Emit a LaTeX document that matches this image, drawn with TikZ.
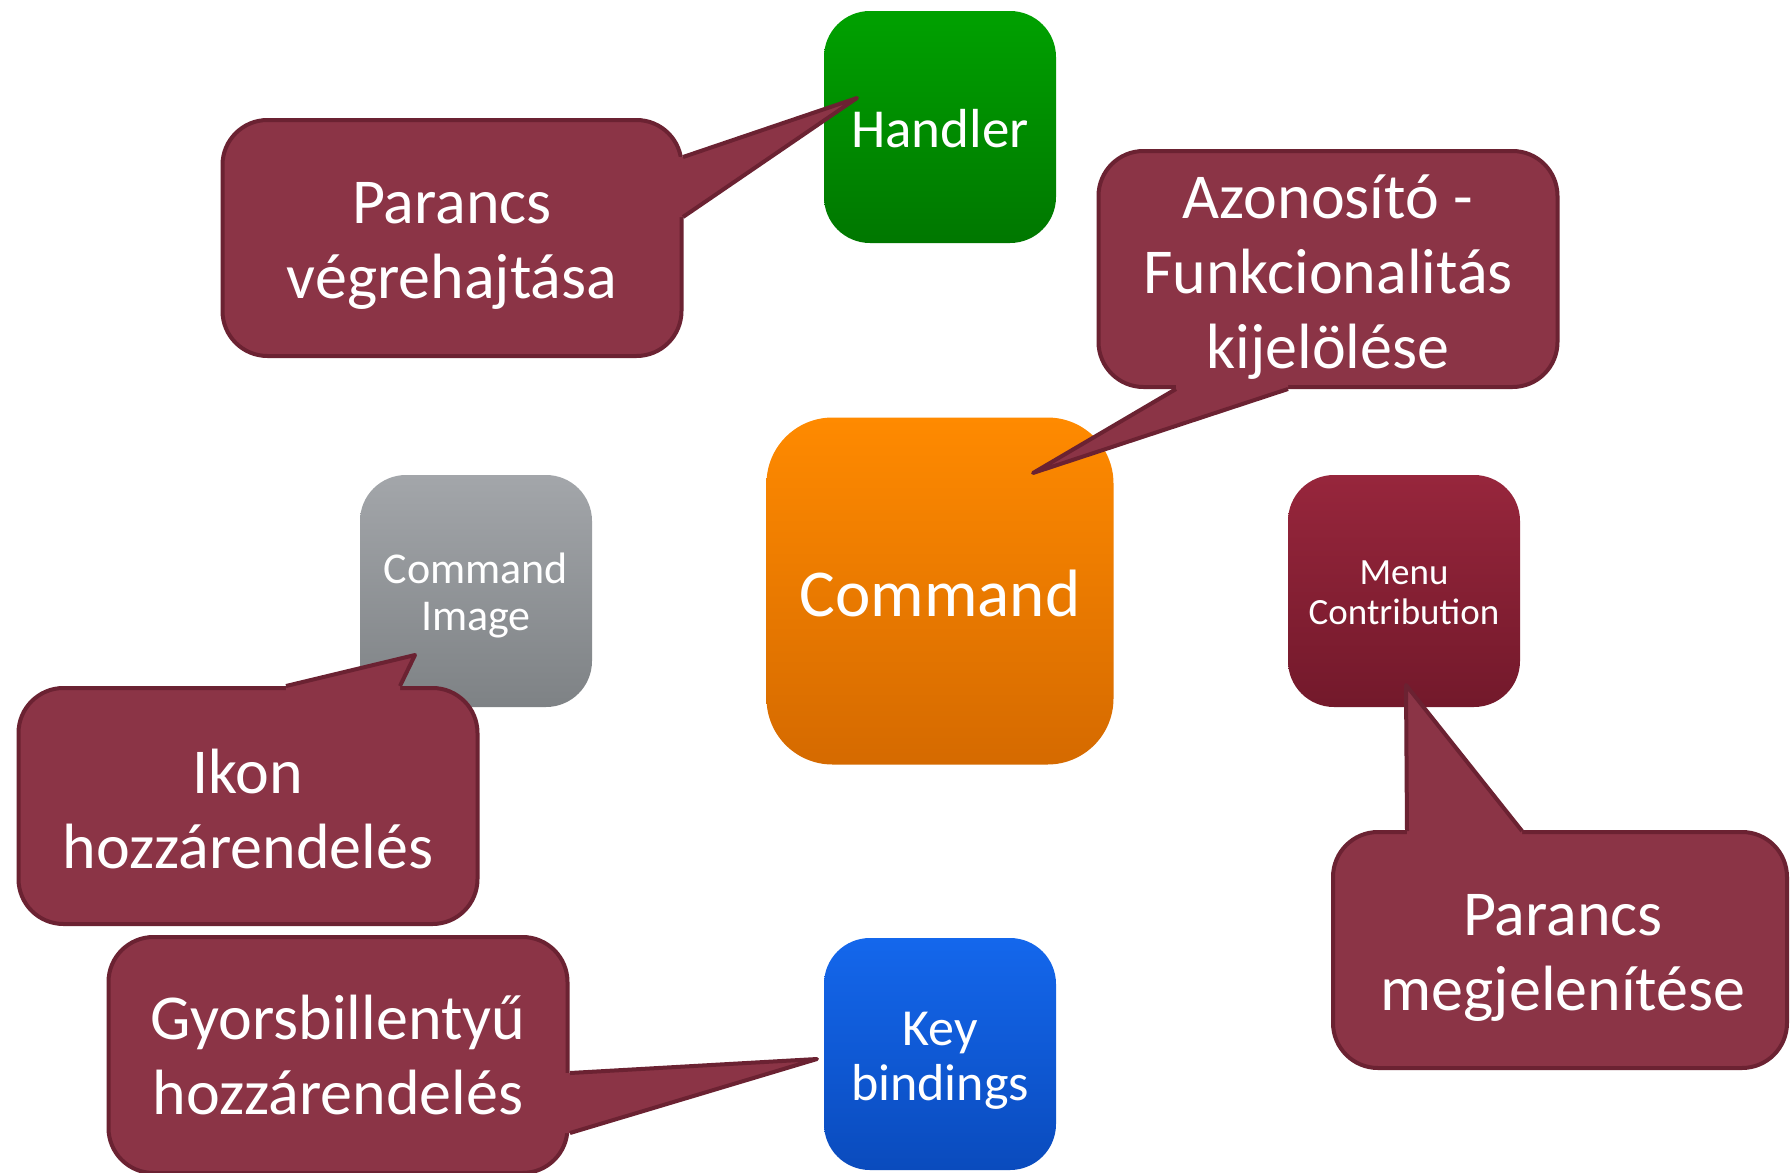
\documentclass[tikz,border=0pt]{standalone}
\usepackage{fontspec}
\setmainfont{Carlito}
\usetikzlibrary{calc}
\definecolor{calfill}{HTML}{8B3446}
\definecolor{calborder}{HTML}{6B2232}
\definecolor{linkc}{HTML}{F08A00}
\definecolor{greenT}{HTML}{00A100}
\definecolor{greenB}{HTML}{007700}
\definecolor{orangeT}{HTML}{FF8A00}
\definecolor{orangeB}{HTML}{D56A00}
\definecolor{grayT}{HTML}{A3A6AA}
\definecolor{grayB}{HTML}{7E8285}
\definecolor{wineT}{HTML}{97263C}
\definecolor{wineB}{HTML}{73192B}
\definecolor{blueT}{HTML}{1467EC}
\definecolor{blueB}{HTML}{0A4BBD}
\pgfdeclarelayer{bg}
\pgfsetlayers{bg,main}
\tikzset{
  box/.style={rounded corners=46pt, minimum width=232pt, minimum height=232pt,
    inner sep=0pt, text=white, align=center},
  btext/.style={text=white, align=center, inner sep=0pt},
  callrect/.style={rounded corners=45pt, fill=calfill, draw=calborder, line width=4pt,
    minimum width=459pt, minimum height=236pt, inner sep=0pt},
  ctext/.style={text=white, align=center, font=\fontsize{64}{75}\selectfont},
  pointer/.style={draw=calborder, line width=4pt, line join=round},
  link/.style={draw=linkc, line width=2pt},
}
\newcommand\shadowbox[2]{%
  \foreach \dd/\cc in {10/5,7/10,5/16,3/22}{%
    \fill[black!\cc, rounded corners=#2] ([shift={(\dd,\dd)}]#1.north west) rectangle ([shift={(\dd,\dd)}]#1.south east);}}
\newcommand\shadowtri[3]{%
  \foreach \dd/\cc in {10/5,7/10,5/16,3/22}{%
    \fill[black!\cc] ([shift={(\dd,\dd)}]#1) -- ([shift={(\dd,\dd)}]#2) -- ([shift={(\dd,\dd)}]#3) -- cycle;}}
\begin{document}
\begin{tikzpicture}[x=1pt,y=-1pt]
\fill[white] (0,0) rectangle (1792,1173);
\useasboundingbox (0,0) rectangle (1792,1173);

% boxes
\node[box, top color=greenT, bottom color=greenB] (h) at (940,127) {};
\node[box, rounded corners=66pt, minimum width=347pt, minimum height=347pt, top color=orangeT, bottom color=orangeB] (cmd) at (940,591) {};
\node[box, top color=grayT, bottom color=grayB] (img) at (476,591) {};
\node[box, top color=wineT, bottom color=wineB] (menu) at (1404,591) {};
\node[box, top color=blueT, bottom color=blueB] (key) at (940,1054) {};

\node[btext, font=\fontsize{55}{60}\selectfont] (ht) at ($(h)+(0,2)$) {Handler};
\node[btext, font=\fontsize{67}{72}\selectfont] (cmdt) at ($(cmd)+(0,2)$) {Command};
\node[btext, font=\fontsize{44}{47}\selectfont] (imgt) at ($(img)+(0,4)$) {Command\\Image};
\node[btext, font=\fontsize{37}{40}\selectfont] (menut) at ($(menu)+(0,2)$) {Menu\\Contribution};
\node[btext, font=\fontsize{52}{55}\selectfont] (keyt) at ($(key)+(0,7)$) {Key\\bindings};

% callout pointer geometry
\coordinate (p1a) at (683,157); \coordinate (p1t) at (857,98);  \coordinate (p1b) at (683,217);
\coordinate (p2a) at (1176,389); \coordinate (p2t) at (1033,473); \coordinate (p2b) at (1288,389);
\coordinate (p3a) at (286,686); \coordinate (p3t) at (415,655); \coordinate (p3b) at (400,686);
\coordinate (p4a) at (570,1073); \coordinate (p4t) at (817,1059); \coordinate (p4b) at (570,1133);
\coordinate (p5a) at (1407,831); \coordinate (p5t) at (1406,685); \coordinate (p5b) at (1522,831);

\path (452,238) coordinate (c1pos) (1328,269) coordinate (c2pos) (248,806) coordinate (c3pos)
      (338,1055) coordinate (c4pos) (1560,950) coordinate (c5pos);

% shadows and connectors on background
\begin{pgfonlayer}{bg}
  \shadowbox{h}{46pt}
  \shadowbox{cmd}{66pt}
  \shadowbox{img}{46pt}
  \shadowbox{menu}{46pt}
  \shadowbox{key}{46pt}
  \draw[link] (h) -- (cmd);
  \draw[link] (img) -- (cmd);
  \draw[link] (cmd) -- (menu);
  \draw[link] (cmd) -- (key);
\end{pgfonlayer}

% callouts
\node[callrect] (c1) at (c1pos) {};
\node[callrect] (c2) at (c2pos) {};
\node[callrect] (c3) at (c3pos) {};
\node[callrect] (c4) at (c4pos) {};
\node[callrect, minimum width=454pt] (c5) at (c5pos) {};

\begin{pgfonlayer}{bg}
  \shadowbox{c1}{45pt} \shadowtri{p1a}{p1t}{p1b}
  \shadowbox{c2}{45pt} \shadowtri{p2a}{p2t}{p2b}
  \shadowbox{c3}{45pt} \shadowtri{p3a}{p3t}{p3b}
  \shadowbox{c4}{45pt} \shadowtri{p4a}{p4t}{p4b}
  \shadowbox{c5}{45pt} \shadowtri{p5a}{p5t}{p5b}
\end{pgfonlayer}

% pointers (right side)
\fill[calfill] (p1a) -- (p1t) -- (p1b) -- ($(p1b)+(-6,0)$) -- ($(p1a)+(-6,0)$) -- cycle;
\draw[pointer] (p1a) -- (p1t) -- (p1b);
\fill[calfill] (p4a) -- (p4t) -- (p4b) -- ($(p4b)+(-6,0)$) -- ($(p4a)+(-6,0)$) -- cycle;
\draw[pointer] (p4a) -- (p4t) -- (p4b);
% pointer (bottom side)
\fill[calfill] (p2a) -- (p2t) -- (p2b) -- ($(p2b)+(0,-6)$) -- ($(p2a)+(0,-6)$) -- cycle;
\draw[pointer] (p2a) -- (p2t) -- (p2b);
% pointers (top side)
\fill[calfill] (p3a) -- (p3t) -- (p3b) -- ($(p3b)+(0,6)$) -- ($(p3a)+(0,6)$) -- cycle;
\draw[pointer] (p3a) -- (p3t) -- (p3b);
\fill[calfill] (p5a) -- (p5t) -- (p5b) -- ($(p5b)+(0,6)$) -- ($(p5a)+(0,6)$) -- cycle;
\draw[pointer] (p5a) -- (p5t) -- (p5b);

% callout texts
\node[ctext] (t1) at ($(c1)+(0,8)$) {Parancs\\végrehajtása};
\node[ctext] (t2) at ($(c2)+(0,8)$) {Azonosító -\\Funkcionalitás\\kijelölése};
\node[ctext] (t3) at ($(c3)+(0,3)$) {Ikon\\hozzárendelés};
\node[ctext] (t4) at (c4) {Gyorsbillentyű\\hozzárendelés};
\node[ctext] (t5) at ($(c5)+(3,8)$) {Parancs\\megjelenítése};
\end{tikzpicture}
\end{document}
